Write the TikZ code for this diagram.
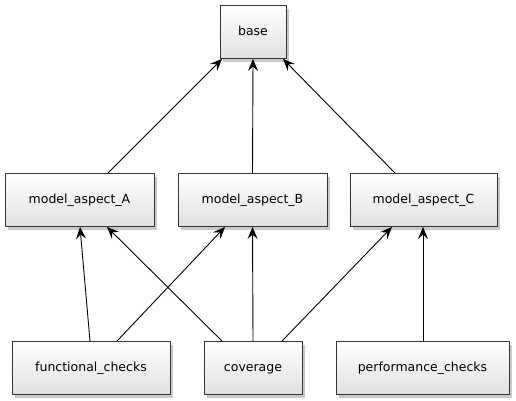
\documentclass[tikz,border=0pt]{standalone}
\usepackage{fontspec}
\setmainfont{DejaVu Sans}
\usepackage{xcolor}
\usepackage{tikz}
\usetikzlibrary{arrows.meta,shadows}

\tikzset{
  modbox/.style={draw=black!80, line width=0.9pt, minimum height=53pt,
    top color=white, bottom color=black!12, text height=9.5pt, text depth=2.5pt,
    drop shadow={shadow xshift=3pt, shadow yshift=-3pt, fill=black!35, opacity=0.6},
    font=\fontsize{12.5}{15}\selectfont},
  dep/.style={-{Stealth[length=12pt,width=10pt,inset=4.5pt]}, line width=0.9pt}
}

\begin{document}
\begin{tikzpicture}[x=1pt,y=-1pt]
            \useasboundingbox (0,0) rectangle (516,400);
            %绘制顶层模块
            \node[modbox, minimum width=66pt] (base) at (253,32) {base};
            %绘制中间层模块
            \node[modbox, minimum width=149pt] (A) at (79.5,200) {model\_aspect\_A};
            \node[modbox, minimum width=149pt] (B) at (252.5,200) {model\_aspect\_B};
            \node[modbox, minimum width=147pt] (C) at (423.5,200) {model\_aspect\_C};
            %绘制底层模块
            \node[modbox, minimum width=158pt] (F) at (91,368) {functional\_checks};
            \node[modbox, minimum width=98pt] (V) at (253,368) {coverage};
            \node[modbox, minimum width=173pt] (P) at (422.5,368) {performance\_checks};
            %绘制依赖箭头
            \draw[dep] ([xshift=28.5pt]A.north) -- ([xshift=-31pt]base.south);
            \draw[dep] (B.north) -- (base.south);
            \draw[dep] ([xshift=-28.5pt]C.north) -- ([xshift=30pt]base.south);
            \draw[dep] ([xshift=-1pt]F.north) -- ([xshift=0.5pt]A.south);
            \draw[dep] ([xshift=26pt]F.north) -- ([xshift=-27.5pt]B.south);
            \draw[dep] ([xshift=-31pt]V.north) -- ([xshift=27.5pt]A.south);
            \draw[dep] (V.north) -- (B.south);
            \draw[dep] ([xshift=29pt]V.north) -- ([xshift=-31.5pt]C.south);
            \draw[dep] ([xshift=0.5pt]P.north) -- ([xshift=-0.5pt]C.south);
        \end{tikzpicture}
\end{document}
